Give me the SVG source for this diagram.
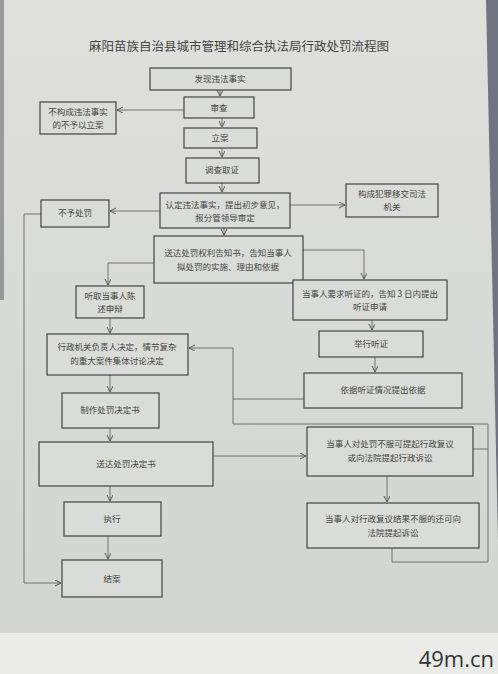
<svg xmlns="http://www.w3.org/2000/svg" width="498" height="674" viewBox="0 0 498 674">
<defs>
<linearGradient id="paper" x1="0" y1="0" x2="0" y2="1">
<stop offset="0" stop-color="#dfe0dc"/>
<stop offset="1" stop-color="#d3d5d0"/>
</linearGradient>
<marker id="arr" markerWidth="8" markerHeight="8" refX="6" refY="3" orient="auto" markerUnits="userSpaceOnUse">
<path d="M0,0 L6,3 L0,6" fill="none" stroke="#555" stroke-width="1"/>
</marker>
<style>
.box{fill:#dadcd7;stroke:#444;stroke-width:1.2}
.t{font-family:"Noto Sans CJK SC","Noto Sans",sans-serif;font-size:8.5px;fill:#444;text-anchor:middle}
.c{fill:none;stroke:#666;stroke-width:0.9}
.a{marker-end:url(#arr)}
</style>
</defs>
<rect x="0" y="0" width="498" height="633" fill="url(#paper)"/>
<polygon points="486,0 498,0 498,540" fill="#55596a" opacity="0.8"/>
<rect x="0" y="0" width="4" height="300" fill="#6a6d70" opacity="0.6"/>
<rect x="0" y="633" width="498" height="41" fill="#ebebe9"/>
<text x="494" y="667" font-family="'Open Sans','DejaVu Sans',sans-serif" font-size="22" fill="#333" text-anchor="end">49m.cn</text>

<text x="239" y="51" font-family="'Noto Sans CJK SC',sans-serif" font-size="12.5" fill="#444" text-anchor="middle">麻阳苗族自治县城市管理和综合执法局行政处罚流程图</text>

<g id="connectors">
<path class="c a" d="M220,90 V96"/>
<path class="c a" d="M184,110 H117"/>
<path class="c a" d="M222,118 V127"/>
<path class="c a" d="M222,148 V157"/>
<path class="c a" d="M222,183 V192"/>
<path class="c a" d="M160,211 H110"/>
<path class="c a" d="M290,205 H345"/>
<path class="c a" d="M224,228 V235"/>
<path class="c a" d="M154,263 H108 V285"/>
<path class="c a" d="M303,250 H364 V279"/>
<path class="c a" d="M110,318 V333"/>
<path class="c a" d="M372,320 V330"/>
<path class="c a" d="M375,357 V372"/>
<path class="c" d="M304,399 H233"/>
<path class="c a" d="M233,424 V348 H189"/>
<path class="c" d="M233,424 H488 V562 H392 V548"/>
<path class="c" d="M473,449 H488"/>
<path class="c a" d="M110,375 V392"/>
<path class="c a" d="M110,428 V441"/>
<path class="c a" d="M213,456 H306"/>
<path class="c a" d="M110,486 V501"/>
<path class="c a" d="M108,536 V559"/>
<path class="c a" d="M387,476 V502"/>
<path class="c a" d="M41,214 H24 V583 H61"/>
</g>

<g id="n1"><rect class="box" x="150" y="68" width="141" height="22"/><text class="t" x="220" y="82">发现违法事实</text></g>
<g id="n2"><rect class="box" x="184" y="97" width="70" height="21"/><text class="t" x="219" y="111">审查</text></g>
<g id="n3"><rect class="box" x="40" y="102" width="76" height="32"/><text class="t" x="78" y="115">不构成违法事实</text><text class="t" x="78" y="128">的不予以立案</text></g>
<g id="n4"><rect class="box" x="184" y="128" width="73" height="20"/><text class="t" x="220" y="141">立案</text></g>
<g id="n5"><rect class="box" x="186" y="158" width="73" height="25"/><text class="t" x="222" y="173">调查取证</text></g>
<g id="n6"><rect class="box" x="160" y="193" width="130" height="35"/><text class="t" x="225" y="208">认定违法事实，提出初步意见，</text><text class="t" x="225" y="221">报分管领导审定</text></g>
<g id="n7"><rect class="box" x="346" y="184" width="92" height="33"/><text class="t" x="392" y="197">构成犯罪移交司法</text><text class="t" x="392" y="210">机关</text></g>
<g id="n8"><rect class="box" x="41" y="200" width="68" height="27"/><text class="t" x="75" y="216">不予处罚</text></g>
<g id="n9"><rect class="box" x="154" y="236" width="149" height="47"/><text class="t" x="228" y="256">送达处罚权利告知书，告知当事人</text><text class="t" x="228" y="270">拟处罚的实施、理由和依据</text></g>
<g id="n10"><rect class="box" x="76" y="286" width="68" height="32"/><text class="t" x="110" y="299">听取当事人陈</text><text class="t" x="110" y="312">述申辩</text></g>
<g id="n11"><rect class="box" x="293" y="280" width="154" height="40"/><text class="t" x="370" y="297">当事人要求听证的，告知 3 日内提出</text><text class="t" x="370" y="310">听证申请</text></g>
<g id="n12"><rect class="box" x="319" y="331" width="104" height="26"/><text class="t" x="371" y="347">举行听证</text></g>
<g id="n13"><rect class="box" x="47" y="334" width="141" height="41"/><text class="t" x="117" y="350">行政机关负责人决定，情节复杂</text><text class="t" x="117" y="364">的重大案件集体讨论决定</text></g>
<g id="n14"><rect class="box" x="304" y="373" width="158" height="35"/><text class="t" x="383" y="393">依据听证情况提出依据</text></g>
<g id="n15"><rect class="box" x="62" y="393" width="97" height="35"/><text class="t" x="110" y="413">制作处罚决定书</text></g>
<g id="n16"><rect class="box" x="39" y="442" width="174" height="44"/><text class="t" x="126" y="467">送达处罚决定书</text></g>
<g id="n17"><rect class="box" x="307" y="427" width="166" height="49"/><text class="t" x="390" y="447">当事人对处罚不服可提起行政复议</text><text class="t" x="390" y="461">或向法院提起行政诉讼</text></g>
<g id="n18"><rect class="box" x="64" y="502" width="97" height="34"/><text class="t" x="112" y="522">执行</text></g>
<g id="n19"><rect class="box" x="307" y="503" width="172" height="45"/><text class="t" x="393" y="522">当事人对行政复议结果不服的还可向</text><text class="t" x="393" y="536">法院提起诉讼</text></g>
<g id="n20"><rect class="box" x="62" y="560" width="100" height="37"/><text class="t" x="112" y="582">结案</text></g>
</svg>
